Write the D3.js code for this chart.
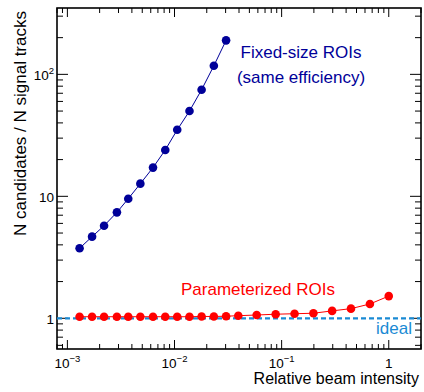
<!DOCTYPE html>
<html>
<head>
<meta charset="utf-8">
<script src="https://cdn.jsdelivr.net/npm/d3@7"></script>
<style>
  body { margin: 0; background: #fff; }
  svg { display: block; font-family: "Liberation Sans", Arial, sans-serif; }
</style>
</head>
<body>
<div id="chart"></div>
<script>
// Fixed-size ROIs (same efficiency)
const fixedX = [0.0013, 0.0017, 0.0022, 0.0029, 0.0037, 0.0048, 0.0063, 0.0082, 0.0106, 0.0138, 0.0179, 0.0233, 0.0303];
const fixedY = [3.75, 4.67, 5.74, 7.39, 9.56, 12.7, 17.2, 24.0, 35.1, 50.0, 74.8, 117.6, 190];

// Parameterized ROIs
const paramX = [0.0013, 0.0017, 0.0022, 0.0029, 0.0037, 0.0048, 0.0063, 0.0082, 0.0106, 0.0138, 0.0179, 0.0233, 0.0303, 0.0394,
                0.0585, 0.088, 0.132, 0.198, 0.296, 0.444, 0.667, 1.0];
const paramY = [1.03, 1.03, 1.03, 1.03, 1.03, 1.03, 1.03, 1.03, 1.03, 1.03, 1.035, 1.035, 1.04, 1.05,
                1.064, 1.08, 1.09, 1.10, 1.15, 1.20, 1.31, 1.52];

const idealValue = 1;

// tick labels: base + exponent
const xTickLabels = [
  { v: 0.001, base: "10", exp: "\u22123" },
  { v: 0.01,  base: "10", exp: "\u22122" },
  { v: 0.1,   base: "10", exp: "\u22121" },
  { v: 1,     base: "1",  exp: "" }
];
const yTickLabels = [
  { v: 1,   base: "1",  exp: "" },
  { v: 10,  base: "10", exp: "" },
  { v: 100, base: "10", exp: "2" }
];

const width = 424, height = 392;
const margin = { top: 8, right: 3, bottom: 43, left: 57 };

const blue = "#000099";
const red = "#ff0000";
const skyBlue = "#1a8ad4";

const svg = d3.select('#chart')
  .append('svg')
    .attr('width', width)
    .attr('height', height);

const x = d3.scaleLog()
  .domain([0.0008, 2])
  .range([margin.left, width - margin.right]);
const y = d3.scaleLog()
  .domain([0.56, 350])
  .range([height - margin.bottom, margin.top]);

const x0 = margin.left, x1 = width - margin.right;
const y0 = height - margin.bottom, y1 = margin.top;

const isMajor = v => Math.abs(Math.log10(v) - Math.round(Math.log10(v))) < 1e-9;

// ticks (ROOT style: inside the frame, on all four sides)
const tickG = svg.append('g').attr('stroke', '#000').attr('stroke-width', 1);
x.ticks().filter(v => x(v) >= x0 && x(v) <= x1).forEach(v => {
  const len = isMajor(v) ? 9 : 5;
  tickG.append('line').attr('x1', x(v)).attr('x2', x(v)).attr('y1', y0).attr('y2', y0 - len);
  tickG.append('line').attr('x1', x(v)).attr('x2', x(v)).attr('y1', y1).attr('y2', y1 + len);
});
y.ticks().filter(v => y(v) >= y1 && y(v) <= y0).forEach(v => {
  const len = isMajor(v) ? 11 : 6;
  tickG.append('line').attr('x1', x0).attr('x2', x0 + len).attr('y1', y(v)).attr('y2', y(v));
  tickG.append('line').attr('x1', x1).attr('x2', x1 - len).attr('y1', y(v)).attr('y2', y(v));
});

// frame
svg.append('rect')
  .attr('x', x0).attr('y', y1)
  .attr('width', x1 - x0).attr('height', y0 - y1)
  .attr('fill', 'none')
  .attr('stroke', '#000')
  .attr('stroke-width', 1.6);

// tick labels
xTickLabels.forEach(t => {
  const txt = svg.append('text')
    .attr('x', x(t.v))
    .attr('y', y0 + 18.5)
    .attr('text-anchor', 'middle')
    .attr('font-size', 13.5)
    .attr('fill', '#000');
  txt.append('tspan').text(t.base);
  if (t.exp) txt.append('tspan').attr('font-size', 9.5).attr('dy', -6).text(t.exp);
});
yTickLabels.forEach(t => {
  const txt = svg.append('text')
    .attr('x', x0 - 3)
    .attr('y', y(t.v) + 6)
    .attr('text-anchor', 'end')
    .attr('font-size', 13.5)
    .attr('fill', '#000');
  txt.append('tspan').text(t.base);
  if (t.exp) txt.append('tspan').attr('font-size', 9.5).attr('dy', -6).text(t.exp);
});

// axis titles
svg.append('text')
  .attr('x', 419)
  .attr('y', 384)
  .attr('text-anchor', 'end')
  .attr('font-size', 16)
  .text('Relative beam intensity');
svg.append('text')
  .attr('transform', 'translate(26,' + 11 + ') rotate(-90)')
  .attr('text-anchor', 'end')
  .attr('font-size', 17)
  .text('N candidates / N signal tracks');

// ideal line
svg.append('line')
  .attr('x1', x0).attr('x2', x1)
  .attr('y1', y(idealValue)).attr('y2', y(idealValue))
  .attr('stroke', skyBlue)
  .attr('stroke-width', 2.2)
  .attr('stroke-dasharray', '5,3');

// series
function drawSeries(xs, ys, color) {
  const pts = xs.map((v, i) => [v, ys[i]]);
  svg.append('path')
    .datum(pts)
    .attr('fill', 'none')
    .attr('stroke', color)
    .attr('stroke-width', 1)
    .attr('d', d3.line().x(d => x(d[0])).y(d => y(d[1])));
  svg.append('g')
    .selectAll('circle')
    .data(pts)
    .enter()
    .append('circle')
      .attr('cx', d => x(d[0]))
      .attr('cy', d => y(d[1]))
      .attr('r', 4.3)
      .attr('fill', color);
}
drawSeries(fixedX, fixedY, blue);
drawSeries(paramX, paramY, red);

// annotations
svg.append('text')
  .attr('x', 301).attr('y', 58)
  .attr('text-anchor', 'middle')
  .attr('font-size', 17)
  .attr('fill', blue)
  .text('Fixed-size ROIs');
svg.append('text')
  .attr('x', 301).attr('y', 83)
  .attr('text-anchor', 'middle')
  .attr('font-size', 17)
  .attr('fill', blue)
  .text('(same efficiency)');
svg.append('text')
  .attr('x', 181).attr('y', 295)
  .attr('font-size', 17)
  .attr('fill', red)
  .text('Parameterized ROIs');
svg.append('text')
  .attr('x', 412).attr('y', 334)
  .attr('text-anchor', 'end')
  .attr('font-size', 17)
  .attr('fill', skyBlue)
  .text('ideal');
</script>
</body>
</html>
